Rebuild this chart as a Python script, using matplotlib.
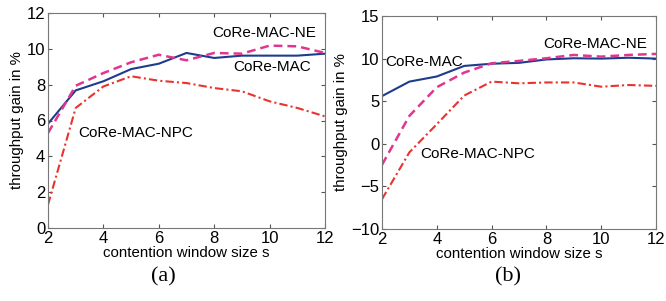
import numpy as np
import matplotlib
matplotlib.use("Agg")
import matplotlib.pyplot as plt

plt.rcParams['font.family'] = ['Liberation Sans', 'DejaVu Sans']

# data
window = [2, 3, 4, 5, 6, 7, 8, 9, 10, 11, 12]

# (a)
core_a = [5.82, 7.68, 8.19, 8.87, 9.17, 9.77, 9.49, 9.62, 9.62, 9.62, 9.73]
ne_a = [5.3, 7.94, 8.65, 9.25, 9.67, 9.36, 9.77, 9.73, 10.18, 10.14, 9.77]
npc_a = [1.3, 6.7, 7.9, 8.47, 8.22, 8.09, 7.81, 7.63, 7.07, 6.7, 6.23]

# (b)
core_b = [5.6, 7.3, 7.9, 9.14, 9.4, 9.5, 9.9, 10.04, 10.0, 10.1, 10.0]
ne_b = [-2.46, 3.28, 6.64, 8.36, 9.45, 9.73, 10.04, 10.43, 10.23, 10.43, 10.55]
npc_b = [-6.5, -1.0, 2.3, 5.66, 7.3, 7.1, 7.2, 7.2, 6.7, 6.9, 6.8]

blue = '#1d3c8c'
magenta = '#e0368f'
red = '#e8332f'

fig = plt.figure(figsize=(6.66, 3.01), dpi=100)
ax1 = fig.add_axes([48/666, 1-228/301, 277/666, 215/301])
ax2 = fig.add_axes([382/666, 1-229/301, 274/666, 213/301])

for ax, core, ne, npc in ((ax1, core_a, ne_a, npc_a), (ax2, core_b, ne_b, npc_b)):
    ax.plot(window, core, color=blue, lw=1.5, ls='-')
    ax.plot(window, ne, color=magenta, lw=1.8, ls=(0, (3.5, 2)))
    ax.plot(window, npc, color=red, lw=1.5, ls=(0, (4, 1.5, 1, 1.5)))
    ax.set_xlim(2, 12)
    ax.set_xticks([2, 4, 6, 8, 10, 12])
    ax.tick_params(direction='in', length=3, labelsize=12, pad=2,
                   top=True, right=True, color='#555555')
    for s in ax.spines.values():
        s.set_color('#777777')
        s.set_linewidth(0.8)
    ax.set_xlabel('contention window size s', fontsize=10.8, labelpad=0.5)
    ax.set_ylabel('throughput gain in %', fontsize=10.8, labelpad=2)

ax1.set_ylim(0, 12)
ax1.set_yticks([0, 2, 4, 6, 8, 10, 12])
ax2.set_ylim(-10, 15)
ax2.set_yticks([-10, -5, 0, 5, 10, 15])

fs = 11
ax1.text(9.8, 10.9, 'CoRe-MAC-NE', fontsize=fs, ha='center', va='center')
ax1.text(10.1, 9.0, 'CoRe-MAC', fontsize=fs, ha='center', va='center')
ax1.text(5.17, 5.3, 'CoRe-MAC-NPC', fontsize=fs, ha='center', va='center')
ax2.text(9.77, 11.7, 'CoRe-MAC-NE', fontsize=fs, ha='center', va='center')
ax2.text(3.53, 9.65, 'CoRe-MAC', fontsize=fs, ha='center', va='center')
ax2.text(5.5, -1.17, 'CoRe-MAC-NPC', fontsize=fs, ha='center', va='center')

fig.text(163/666, 1-277/301, '(a)', family='Liberation Serif', fontsize=16,
         ha='center', va='center')
fig.text(508/666, 1-277/301, '(b)', family='Liberation Serif', fontsize=16,
         ha='center', va='center')

fig.savefig('out.png', dpi=100)
